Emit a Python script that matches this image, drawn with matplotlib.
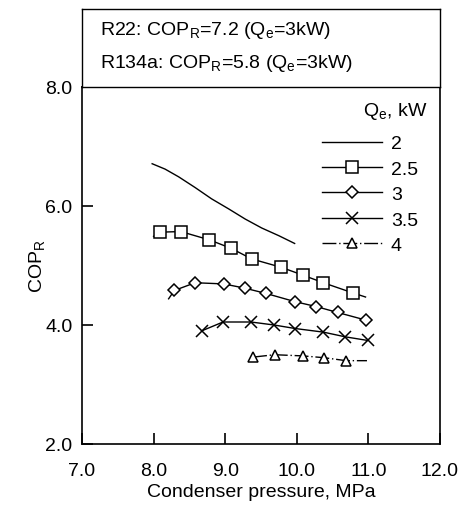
import matplotlib
matplotlib.use("Agg")
import matplotlib.pyplot as plt

plt.rcParams['font.family'] = ['Liberation Sans', 'DejaVu Sans']
plt.rcParams['mathtext.fontset'] = 'custom'
plt.rcParams['mathtext.rm'] = 'Liberation Sans'

# values
p_q20 = [7.98, 8.16, 8.35, 8.58, 8.81, 9.05, 9.28, 9.51, 9.75, 9.97]
cop_q20 = [6.71, 6.62, 6.49, 6.31, 6.12, 5.95, 5.78, 5.63, 5.50, 5.37]

p_q25 = [8.0, 8.09, 8.38, 8.78, 9.08, 9.37, 9.78, 10.08, 10.37, 10.78, 10.96]
cop_q25 = [5.49, 5.56, 5.57, 5.43, 5.29, 5.11, 4.97, 4.84, 4.71, 4.54, 4.47]
mk_q25 = [1, 2, 3, 4, 5, 6, 7, 8, 9]

p_q30 = [8.21, 8.29, 8.58, 8.98, 9.27, 9.57, 9.98, 10.27, 10.57, 10.97]
cop_q30 = [4.44, 4.58, 4.71, 4.69, 4.62, 4.53, 4.39, 4.31, 4.21, 4.08]
mk_q30 = [1, 2, 3, 4, 5, 6, 7, 8, 9]

p_q35 = [8.67, 8.97, 9.36, 9.68, 9.98, 10.37, 10.68, 10.99]
cop_q35 = [3.90, 4.05, 4.05, 4.00, 3.94, 3.88, 3.80, 3.74]

p_q40 = [9.39, 9.69, 10.09, 10.38, 10.69, 10.98]
cop_q40 = [3.46, 3.50, 3.48, 3.45, 3.40, 3.40]
mk_q40 = [0, 1, 2, 3, 4]

x_ticks = [7.0, 8.0, 9.0, 10.0, 11.0, 12.0]
y_ticks = [2.0, 4.0, 6.0, 8.0]
fs = 14

fig = plt.figure(figsize=(4.59, 5.10), dpi=100)
ax = fig.add_axes([0.1786, 0.1275, 0.78, 0.70])

mkw = dict(color='black', lw=1.0, markerfacecolor='white', markeredgecolor='black',
           markeredgewidth=1.1)
ax.plot(p_q20, cop_q20, label='2', color='black', lw=1.0)
ax.plot(p_q25, cop_q25, marker='s', markersize=8, markevery=mk_q25, label='2.5', **mkw)
ax.plot(p_q30, cop_q30, marker='D', markersize=6, markevery=mk_q30, label='3', **mkw)
ax.plot(p_q35, cop_q35, marker='x', markersize=9, label='3.5', **mkw)
ax.plot(p_q40, cop_q40, marker='^', markersize=7.5, markevery=mk_q40, label='4',
        linestyle=(0, (10, 2, 1, 2)), **mkw)

ax.set_xlim(7.0, 12.0)
ax.set_ylim(2.0, 8.0)
ax.set_xticks(x_ticks)
ax.set_yticks(y_ticks)
ax.set_xticklabels([f'{t:.1f}' for t in x_ticks])
ax.set_yticklabels([f'{t:.1f}' for t in y_ticks])
ax.tick_params(direction='in', length=8, width=1.2, labelsize=fs)
ax.tick_params(axis='x', pad=13)
ax.tick_params(axis='y', pad=7)
for s in ax.spines.values():
    s.set_linewidth(1.2)

ax.set_xlabel('Condenser pressure, MPa', fontsize=fs, labelpad=3)
ax.set_ylabel(r'COP$_{\rm R}$', fontsize=fs, labelpad=-2)

ax.text(0.964, 0.935, r'Q$_{\rm e}$, kW', fontsize=fs, ha='right', va='center',
        transform=ax.transAxes)
ax.legend(loc='upper left', bbox_to_anchor=(0.670, 0.866), frameon=False, numpoints=1,
          handlelength=3.1, fontsize=fs, labelspacing=0.4, borderpad=0,
          borderaxespad=0, handletextpad=0.45)

# header box above the plot
box = fig.add_axes([0.1786, 0.8275, 0.78, 0.153])
box.set_xticks([])
box.set_yticks([])
for s in box.spines.values():
    s.set_linewidth(1.0)
box.text(0.05, 0.74, r'R22: COP$_{\rm R}$=7.2 (Q$_{\rm e}$=3kW)', fontsize=fs,
         va='center', ha='left', transform=box.transAxes)
box.text(0.05, 0.32, r'R134a: COP$_{\rm R}$=5.8 (Q$_{\rm e}$=3kW)', fontsize=fs,
         va='center', ha='left', transform=box.transAxes)

fig.savefig('out.png', dpi=100)
